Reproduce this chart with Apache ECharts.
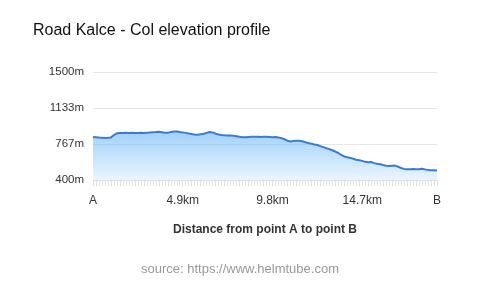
<!DOCTYPE html>
<html>
<head>
<meta charset="utf-8">
<script src="https://cdn.jsdelivr.net/npm/echarts@6/dist/echarts.min.js"></script>
<style>html,body{margin:0;padding:0;background:#fff}#c{width:480px;height:287px}</style>
</head>
<body>
<div id="c"></div>
<script>
const titleText = 'Road Kalce - Col elevation profile';
const sourceText = 'source: https://www.helmtube.com';
const xAxisName = 'Distance from point A to point B';
const tickLabels = ['A', '4.9km', '9.8km', '14.7km', 'B'];
const tickIndices = [0, 30, 60, 90, 115];
const yTicks = [400, 767, 1133, 1500];
const elevation = [
 838,835,832,830,828,830,834,858,875,878,
 879,880,878,880,879,878,881,879,880,884,
 887,889,892,887,882,880,890,895,893,888,
 885,880,873,868,862,861,866,872,880,888,
 885,872,864,858,855,853,852,850,845,840,
 836,835,839,840,841,840,838,841,840,838,
 836,838,834,826,815,800,793,797,800,799,
 795,785,776,770,762,756,745,735,724,714,
 703,690,675,655,640,632,625,616,606,602,
 595,585,580,583,572,565,560,552,546,543,
 545,547,535,522,513,510,510,511,509,510,
 515,508,503,500,499,497
];
const categories = elevation.map((_, i) => String(i));
const FONT = 'Liberation Sans, Arial, sans-serif';

const chart = echarts.init(document.getElementById('c'), null, {renderer: 'canvas'});
chart.setOption({
  animation: false,
  backgroundColor: '#fff',
  title: [
    {text: titleText, left: 28, top: 18, textStyle: {fontFamily: FONT, fontSize: 16, fontWeight: 'normal', color: '#111'}},
    {text: sourceText, left: 'center', top: 258, textStyle: {fontFamily: FONT, fontSize: 13, fontWeight: 'normal', color: '#999'}}
  ],
  grid: {left: 93, right: 43, top: 72, bottom: 107, containLabel: false},
  xAxis: {
    type: 'category',
    data: categories,
    boundaryGap: false,
    name: xAxisName,
    nameLocation: 'middle',
    nameGap: 44,
    nameTextStyle: {fontFamily: FONT, fontSize: 12, fontWeight: 'bold', color: '#333'},
    axisLine: {show: true, lineStyle: {color: '#e0e0e0'}},
    axisTick: {show: true, interval: 0, length: 6, lineStyle: {color: '#e0e0e0'}},
    axisLabel: {
      interval: (i) => tickIndices.indexOf(i) >= 0,
      formatter: (v, i) => tickLabels[tickIndices.indexOf(i)] || '',
      margin: 15,
      fontFamily: FONT, fontSize: 12, color: '#333'
    },
    splitLine: {show: false}
  },
  yAxis: {
    type: 'value',
    min: yTicks[0],
    max: yTicks[yTicks.length - 1],
    interval: (yTicks[yTicks.length - 1] - yTicks[0]) / (yTicks.length - 1),
    axisLine: {show: false},
    axisTick: {show: false},
    axisLabel: {
      formatter: (v) => Math.round(v) + 'm',
      margin: 9,
      fontFamily: FONT, fontSize: 11.5, color: '#333'
    },
    splitLine: {lineStyle: {color: '#e6e6e6', width: 1}}
  },
  series: [{
    type: 'line',
    data: elevation,
    symbol: 'none',
    smooth: false,
    lineStyle: {color: '#3a7bd5', width: 2},
    areaStyle: {
      color: new echarts.graphic.LinearGradient(0, 0, 0, 1, [
        {offset: 0, color: 'rgba(105,182,248,0.9)'},
        {offset: 1, color: 'rgba(105,182,248,0.2)'}
      ])
    },
    z: 2
  }]
});
</script>
</body>
</html>
